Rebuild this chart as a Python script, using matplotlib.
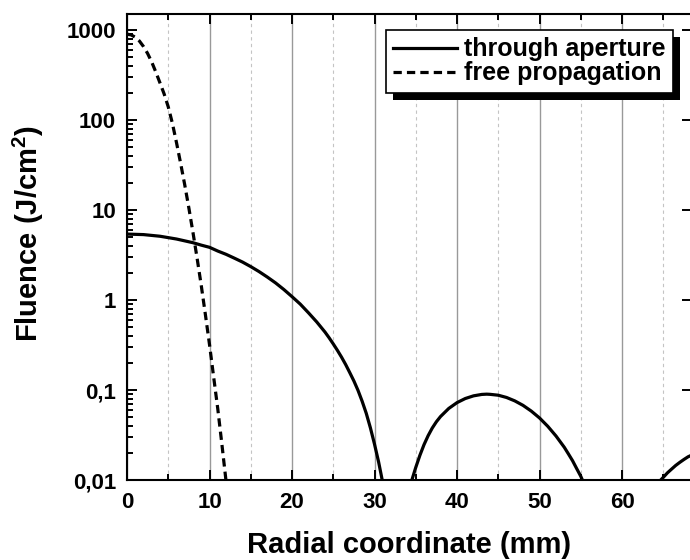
import matplotlib
matplotlib.use('Agg')
import matplotlib.pyplot as plt
import matplotlib.patheffects as pe
from matplotlib.ticker import MultipleLocator, FixedLocator, FixedFormatter, LogLocator, NullFormatter

plt.rcParams['font.family'] = 'Liberation Sans'
plt.rcParams['font.weight'] = 'bold'
plt.rcParams['mathtext.fontset'] = 'custom'
plt.rcParams['mathtext.rm'] = 'Liberation Sans:bold'
plt.rcParams['mathtext.it'] = 'Liberation Sans:bold'
plt.rcParams['mathtext.bf'] = 'Liberation Sans:bold'

# fluence behind the aperture, one list per lobe (radius in mm, J/cm^2)
lobe1_r = [0, 2, 4, 6, 8, 9, 10, 11, 12, 13, 14, 15, 16, 17, 18, 19, 20, 21, 22, 23, 24,
           24.5, 25, 25.5, 26, 26.5, 27, 27.5, 28, 28.5, 29, 29.5, 30, 30.5, 31, 31.5]
lobe1_f = [5.40, 5.33, 5.11, 4.76, 4.33, 4.07, 3.85, 3.50, 3.22, 2.92, 2.64, 2.35, 2.07,
           1.80, 1.55, 1.31, 1.09, 0.90, 0.72, 0.57, 0.44, 0.38, 0.325, 0.276, 0.232,
           0.192, 0.156, 0.126, 0.099, 0.075, 0.055, 0.038, 0.025, 0.0158, 0.0093, 0.0045]
lobe2_r = [34.3, 34.5, 35, 35.5, 36, 36.5, 37, 37.5, 38, 39, 40, 41, 42, 43, 43.6, 44, 45,
           46, 47, 48, 49, 50, 51, 52, 53, 53.5, 54, 54.5, 55, 55.5]
lobe2_f = [0.0083, 0.0098, 0.0138, 0.0188, 0.0247, 0.0311, 0.0378, 0.0444, 0.0507, 0.0624,
           0.0724, 0.0804, 0.0861, 0.0893, 0.0899, 0.0895, 0.0875, 0.0826, 0.0757, 0.0675,
           0.0583, 0.0489, 0.0395, 0.0308, 0.0231, 0.0195, 0.0164, 0.0134, 0.0110, 0.0086]
lobe3_r = [64.2, 64.6, 65, 65.5, 66, 66.5, 67, 67.5, 68, 68.5, 69]
lobe3_f = [0.0085, 0.0098, 0.0107, 0.0120, 0.0132, 0.0145, 0.0157, 0.0169, 0.0181, 0.0190,
           0.0198]

# free propagation, no aperture
free_r = [0, 0.5, 1, 1.5, 2, 2.5, 3, 3.5, 4, 4.5, 5, 5.5, 6, 6.5, 7, 7.5, 8, 8.5, 9, 9.5,
          10, 10.5, 11, 11.5, 12, 12.4]
free_f = [900, 882, 832, 755, 655, 548, 440, 340, 258, 195, 140, 92, 56, 33, 19, 10.5, 5.6,
          2.9, 1.45, 0.69, 0.32, 0.14, 0.062, 0.025, 0.0098, 0.0050]

y_ticks = [0.01, 0.1, 1, 10, 100, 1000]
y_labels = ['0,01', '0,1', '1', '10', '100', '1000']

fig = plt.figure(figsize=(6.9, 5.6), dpi=100)
ax = fig.add_axes([127 / 690, 80 / 560, 564.5 / 690, 466 / 560])

ax.plot(lobe1_r, lobe1_f, color='k', lw=2.3, label='through aperture')
ax.plot(lobe2_r, lobe2_f, color='k', lw=2.3)
ax.plot(lobe3_r, lobe3_f, color='k', lw=2.3)
ax.plot(free_r, free_f, color='k', lw=2.3, ls='--', dashes=(2.6, 1.6), label='free propagation')

ax.set_yscale('log')
ax.set_xlim(0, 68.42)
ax.set_ylim(0.01, 1506)

ax.xaxis.set_major_locator(MultipleLocator(10))
ax.xaxis.set_minor_locator(MultipleLocator(5))
ax.yaxis.set_major_locator(FixedLocator(y_ticks))
ax.yaxis.set_major_formatter(FixedFormatter(y_labels))
ax.yaxis.set_minor_locator(LogLocator(base=10, subs=range(2, 10), numticks=20))
ax.yaxis.set_minor_formatter(NullFormatter())

ax.tick_params(which='both', direction='in', top=True, width=1.4, labelsize=16)
ax.tick_params(which='major', length=7.2)
ax.tick_params(which='minor', length=4.3)
ax.tick_params(axis='x', pad=9)
ax.tick_params(axis='y', pad=8)
ax.tick_params(axis='y', which='major', right=True)
ax.tick_params(axis='y', which='minor', right=False)
for lab in ax.get_xticklabels() + ax.get_yticklabels():
    lab.set_fontweight('bold')

for sp in ax.spines.values():
    sp.set_linewidth(1.5)

ax.set_axisbelow(True)
ax.grid(True, which='major', axis='x', color='#999999', lw=1.0, ls='-')
ax.grid(True, which='minor', axis='x', color='#c4c4c4', lw=0.8, ls=(0, (3, 3)))

leg = ax.legend(loc='upper right', bbox_to_anchor=(0.967, 0.966), borderaxespad=0,
                fancybox=False, edgecolor='black', framealpha=1,
                prop={'weight': 'bold', 'size': 18}, handlelength=2.55,
                handletextpad=0.28, borderpad=0.3, labelspacing=0.0)
leg.get_frame().set_linewidth(1.2)
leg.get_frame().set_path_effects([pe.withSimplePatchShadow(offset=(5, -5), shadow_rgbFace='k', alpha=1.0)])

fig.text(409 / 690, 1 - 545 / 560, 'Radial coordinate (mm)', ha='center', va='center',
         fontsize=21, fontweight='bold')
fig.text(28 / 690, 1 - 234 / 560, r'Fluence (J/cm$^2$)', ha='center', va='center',
         rotation=90, fontsize=21, fontweight='bold')

fig.savefig('out.png', dpi=100)
